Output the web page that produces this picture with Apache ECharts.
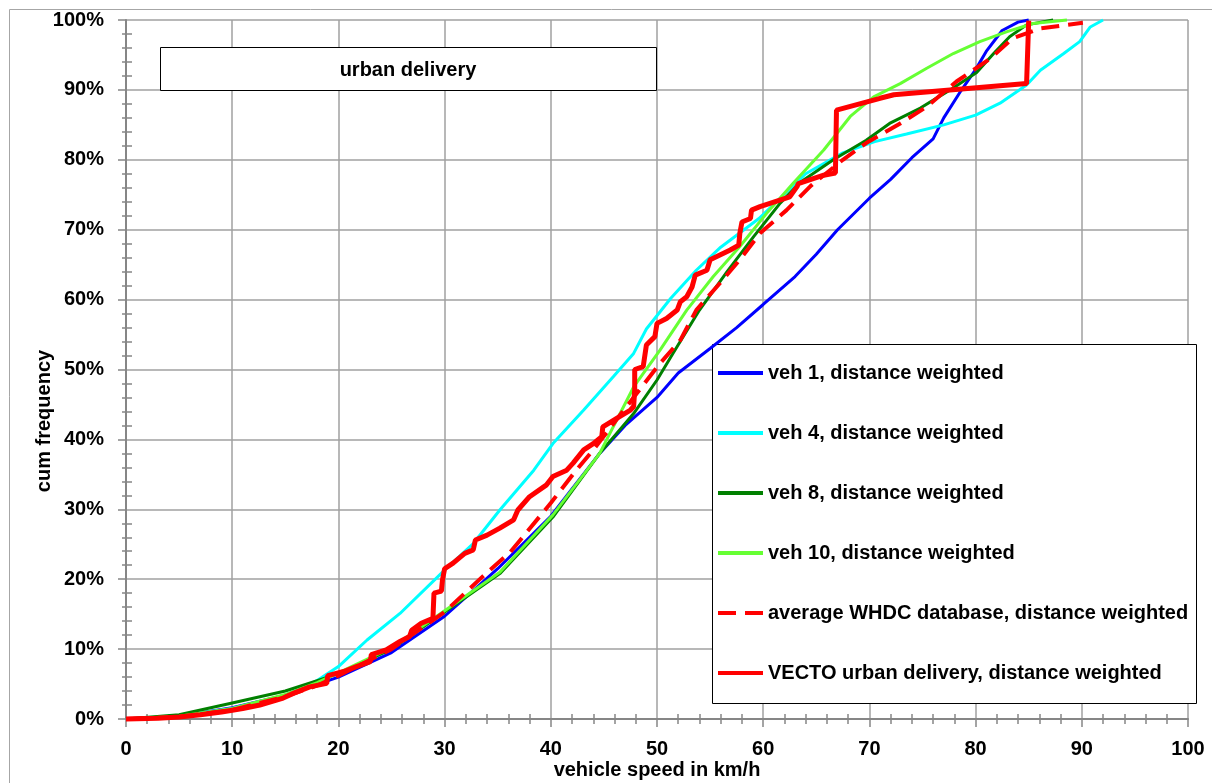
<!DOCTYPE html>
<html>
<head>
<meta charset="utf-8">
<title>urban delivery</title>
<script src="https://cdn.jsdelivr.net/npm/echarts/dist/echarts.min.js"></script>
<style>
html,body{margin:0;padding:0;background:#fff;}
#chart{width:1212px;height:783px;}
</style>
</head>
<body>
<div id="chart"></div>
<script>
// [speed km/h, cum frequency %]
var veh1 = [[0,0],[5,0.4],[10,1.6],[15,3.4],[20,6],[25,9.5],[30,14.7],[35,21.5],[40,29],[44.6,38],[47,42],[50,46],[52,49.5],[55,53],[57.5,56],[60,59.3],[63,63.3],[65,66.5],[67,70],[70,74.5],[72,77.2],[74,80.3],[76,83],[77,86],[78.5,89.6],[80,92.9],[81,95.5],[82.5,98.5],[84,99.7],[85,100]];
var veh4 = [[0,0],[5,0.4],[10,1.5],[15,3.4],[18,5.5],[20,7.5],[22.7,11.3],[25.8,15.1],[30,21.3],[32.7,25.1],[35.2,29.9],[38.4,35.6],[40.2,39.4],[43.1,44.2],[45.9,49],[47.8,52.3],[49,55.8],[51.3,60.2],[53.7,64.2],[56,67.5],[59.6,71.6],[64,78],[67.5,81],[70.5,82.6],[73.5,83.7],[77,85],[80,86.4],[82.3,88.1],[84.8,90.7],[86.1,92.8],[88.3,95.2],[89.8,96.9],[90.8,99],[92,100]];
var veh8 = [[0,0],[5,0.6],[10,2.3],[15,4],[18,5.5],[20,6.5],[25,10],[30,15.3],[35.2,20.8],[40.2,28.9],[44.6,38],[47.8,43.7],[50,48.5],[51.5,52.3],[54,58.5],[56.6,64],[59.1,69],[61.6,73.8],[63.5,76.8],[66.6,80],[69.7,82.8],[71.9,85.2],[74.8,87.4],[77.6,90],[80.1,92.5],[81.7,95.2],[83.2,97.6],[84.8,99.3],[87.3,100]];
var veh10 = [[0,0],[5,0.4],[10,1.5],[15,3.5],[18,5.2],[20,6.6],[25,10.2],[30,15.5],[35.2,21],[40.2,29.2],[44.6,38],[47.8,47.5],[50.3,52.8],[52.8,58.5],[55.3,63.3],[57.8,67.6],[60.3,72.3],[62.8,76.6],[65.7,81.4],[68.2,86.2],[70.4,89],[72.9,90.9],[75.4,93.1],[77.9,95.2],[80.4,96.9],[82.9,98.3],[85.4,99.5],[88.6,100]];
var whdcAvg = [[0,0],[5,0.3],[10,1.3],[15,3.2],[18,4.8],[20,6.2],[25,10],[30,15.3],[33.6,20.4],[36.2,23.9],[40,30.9],[42.4,35.6],[44,38.5],[48.1,46.6],[50.3,50.9],[52.2,54.2],[53.7,58.5],[55.9,62.3],[57.8,65.7],[59.7,69.5],[62.2,72.8],[64.5,76.3],[67.5,80],[69.7,82.4],[72.9,85.2],[75.4,87.6],[78.2,91.2],[81.4,94.5],[83.5,97.4],[86.1,98.8],[90.1,99.6]];
var vecto = [[0,0],[3,0.1],[5,0.3],[7,0.6],[9,1.0],[11,1.5],[12.6,2],[14.8,3],[15.8,3.7],[17.3,4.6],[18.9,5.1],[19,6.2],[20.5,6.8],[21.7,7.5],[23,8.2],[23.1,9.2],[24.5,9.9],[25.8,11.1],[26.7,11.8],[26.9,12.7],[27.8,13.7],[28.9,14.4],[29,18],[29.7,18.3],[29.8,19.9],[30,21.5],[30.8,22.3],[31.9,23.7],[32.7,24.2],[32.9,25.6],[34,26.3],[35.2,27.3],[36.5,28.5],[36.9,29.9],[38,31.8],[39.6,33.5],[40.2,34.7],[41.5,35.6],[42.1,36.6],[43.1,38.5],[44,39.4],[44.8,40.4],[44.9,41.8],[46.2,43],[47.5,44.2],[47.8,44.7],[47.9,47.1],[47.9,50],[48.7,50.4],[49,53.5],[49.8,54.7],[50,56.6],[50.9,57.3],[51.9,58.5],[52.2,59.7],[52.8,60.4],[53.3,61.8],[53.6,63.5],[54.7,64.2],[55,65.7],[56.9,67.1],[57.7,67.8],[57.8,69.5],[58,71.1],[58.8,71.6],[58.9,72.8],[59.7,73.3],[62.5,74.7],[63.2,76.2],[63.3,76.6],[65.7,77.8],[66.8,78.1],[66.9,87.1],[71,88.8],[72.3,89.3],[84.8,90.9],[85,99.9],[85,100]];

var seriesNames = ['veh 1, distance weighted','veh 4, distance weighted','veh 8, distance weighted','veh 10, distance weighted','average WHDC database, distance weighted','VECTO urban delivery, distance weighted'];

var font = 'Liberation Sans, Arial, sans-serif';
var axisGray = '#868686';
var gridGray = '#a0a0a0';

var myChart = echarts.init(document.getElementById('chart'));

function line(name, data, color, width, type){
	return {
		name: name,
		type: 'line',
		data: data,
		symbol: 'none',
		showSymbol: false,
		clip: false,
		lineStyle: {color: color, width: width, type: type || 'solid'},
		itemStyle: {color: color}
	};
}

var option = {
	animation: false,
	backgroundColor: '#fff',
	grid: {left: 126, right: 24, top: 20, bottom: 64, containLabel: false},
	legend: {
		orient: 'vertical',
		left: 716,
		top: 363,
		padding: 0,
		itemWidth: 45,
		itemHeight: 14,
		itemGap: 40,
		selectedMode: false,
		itemStyle: {opacity: 0},
		lineStyle: {width: 4},
		textStyle: {fontFamily: font, fontSize: 20, fontWeight: 'bold', color: '#000', lineHeight: 20},
		data: seriesNames
	},
	xAxis: [
		{
			type: 'value', min: 0, max: 100, interval: 10, position: 'bottom',
			axisLine: {onZero: false, lineStyle: {color: axisGray, width: 2}},
			axisTick: {length: 8, lineStyle: {color: axisGray, width: 1.5}},
			minorTick: {show: true, splitNumber: 5, length: 5, lineStyle: {color: axisGray, width: 1.5}},
			splitLine: {show: true, lineStyle: {color: gridGray, width: 1.5}},
			axisLabel: {margin: 20, fontFamily: font, fontSize: 20, fontWeight: 'bold', color: '#000'}
		},
		{
			type: 'value', min: 0, max: 100, interval: 10, position: 'bottom',
			axisLine: {show: false, onZero: false},
			axisTick: {show: false, inside: true},
			minorTick: {show: true, splitNumber: 5, length: 5, lineStyle: {color: axisGray, width: 1.5}},
			splitLine: {show: false},
			axisLabel: {show: false}
		}
	],
	yAxis: [
		{
			type: 'value', min: 0, max: 100, interval: 10, position: 'left',
			axisLine: {show: true, onZero: false, lineStyle: {color: axisGray, width: 2}},
			axisTick: {show: true, length: 8, lineStyle: {color: axisGray, width: 1.5}},
			minorTick: {show: true, splitNumber: 5, length: 4, lineStyle: {color: axisGray, width: 1.5}},
			splitLine: {show: true, lineStyle: {color: gridGray, width: 1.5}},
			axisLabel: {margin: 22, formatter: '{value}%', fontFamily: font, fontSize: 20, fontWeight: 'bold', color: '#000'}
		},
		{
			type: 'value', min: 0, max: 100, interval: 10, position: 'left',
			axisLine: {show: false, onZero: false},
			axisTick: {show: false, inside: true},
			minorTick: {show: true, splitNumber: 5, length: 6, lineStyle: {color: axisGray, width: 1.5}},
			splitLine: {show: false},
			axisLabel: {show: false}
		}
	],
	graphic: [
		// outer frame
		{type: 'rect', left: 7, top: 7, z: 0, silent: true,
			shape: {x: 0.5, y: 0.5, width: 1240, height: 820},
			style: {fill: null, stroke: '#a6a6a6', lineWidth: 1}},
		// title box
		{type: 'rect', z: 3, silent: true,
			shape: {x: 160.5, y: 47.5, width: 496, height: 43},
			style: {fill: '#fff', stroke: '#000', lineWidth: 1}},
		{type: 'text', z: 5, silent: true, x: 408, y: 70,
			style: {text: 'urban delivery', fill: '#000', font: 'bold 20px ' + font, textAlign: 'center', textVerticalAlign: 'middle'}},
		// legend box
		{type: 'rect', z: 3, silent: true,
			shape: {x: 712.5, y: 344.5, width: 484, height: 359},
			style: {fill: '#fff', stroke: '#000', lineWidth: 1}},
		// axis titles
		{type: 'text', z: 5, silent: true, x: 657, y: 770,
			style: {text: 'vehicle speed in km/h', fill: '#000', font: 'bold 20px ' + font, textAlign: 'center', textVerticalAlign: 'middle'}},
		{type: 'text', z: 5, silent: true, x: 44, y: 421, rotation: Math.PI / 2,
			style: {text: 'cum frequency', fill: '#000', font: 'bold 20px ' + font, textAlign: 'center', textVerticalAlign: 'middle'}}
	],
	series: [
		line(seriesNames[0], veh1, '#0000ff', 3),
		line(seriesNames[1], veh4, '#00ffff', 3),
		line(seriesNames[2], veh8, '#008000', 3),
		line(seriesNames[3], veh10, '#66ff33', 3),
		line(seriesNames[4], whdcAvg, '#ff0000', 4, [18, 9]),
		line(seriesNames[5], vecto, '#ff0000', 5)
	]
};
myChart.setOption(option);
</script>
</body>
</html>
